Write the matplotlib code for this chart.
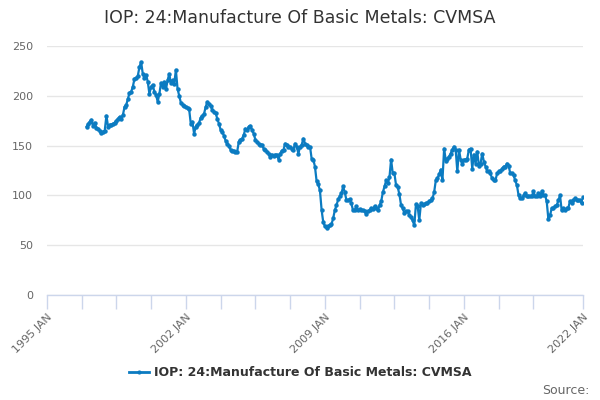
import matplotlib
matplotlib.use("Agg")
import matplotlib.pyplot as plt
import matplotlib.dates as mdates
import numpy as np
import datetime as dt

title = "IOP: 24:Manufacture Of Basic Metals: CVMSA"
series_name = "IOP: 24:Manufacture Of Basic Metals: CVMSA"
start_year = 1997
start_month = 1

v1997 = [169, 172, 174, 176, 170, 173, 168, 167, 165, 163, 164, 165]
v1998 = [180, 169, 171, 171, 172, 173, 175, 177, 179, 177, 181, 189]
v1999 = [191, 197, 203, 204, 209, 217, 218, 220, 229, 234, 222, 218]
v2000 = [221, 214, 202, 209, 211, 204, 201, 194, 202, 213, 209, 214]
v2001 = [207, 216, 222, 213, 216, 212, 226, 207, 200, 193, 191, 190]
v2002 = [189, 188, 187, 172, 174, 162, 169, 171, 173, 178, 180, 182]
v2003 = [189, 194, 192, 190, 186, 184, 183, 177, 172, 166, 164, 160]
v2004 = [155, 152, 150, 146, 145, 145, 144, 144, 154, 156, 157, 161]
v2005 = [167, 166, 169, 170, 166, 162, 156, 154, 152, 151, 151, 147]
v2006 = [146, 144, 142, 139, 141, 140, 141, 141, 136, 142, 145, 146]
v2007 = [152, 151, 149, 149, 147, 146, 152, 149, 142, 149, 151, 157]
v2008 = [152, 151, 149, 149, 137, 136, 129, 114, 111, 105, 85, 73]
v2009 = [69, 67, 69, 70, 71, 77, 85, 90, 96, 99, 102, 109]
v2010 = [103, 95, 95, 96, 92, 85, 85, 89, 85, 86, 85, 85]
v2011 = [84, 81, 84, 85, 87, 86, 89, 87, 85, 90, 94, 103]
v2012 = [109, 115, 112, 118, 136, 122, 122, 110, 108, 101, 90, 87]
v2013 = [82, 84, 84, 80, 78, 75, 70, 91, 89, 75, 92, 90]
v2014 = [91, 92, 92, 94, 95, 97, 103, 115, 117, 121, 126, 115]
v2015 = [147, 135, 137, 139, 142, 146, 149, 146, 124, 146, 136, 132]
v2016 = [136, 136, 137, 146, 147, 127, 141, 132, 144, 130, 132, 142]
v2017 = [134, 129, 125, 124, 122, 117, 115, 115, 122, 124, 124, 127]
v2018 = [129, 129, 132, 130, 122, 122, 120, 115, 110, 100, 97, 97]
v2019 = [100, 102, 99, 99, 99, 99, 104, 99, 99, 102, 99, 104]
v2020 = [100, 100, 94, 76, 80, 87, 87, 89, 90, 95, 100, 85]
v2021 = [87, 85, 87, 87, 94, 92, 95, 97, 95, 95, 95, 92]
v2022 = [98]

values = (v1997 + v1998 + v1999 + v2000 + v2001 + v2002 + v2003 + v2004 +
          v2005 + v2006 + v2007 + v2008 + v2009 + v2010 + v2011 + v2012 +
          v2013 + v2014 + v2015 + v2016 + v2017 + v2018 + v2019 + v2020 +
          v2021 + v2022)

dates = []
y, m = start_year, start_month
for _ in values:
    dates.append(dt.date(y, m, 1))
    m += 1
    if m > 12:
        m = 1
        y += 1

yticks = [0, 50, 100, 150, 200, 250]
label_years = [1995, 2002, 2009, 2016, 2022]

fig = plt.figure(figsize=(6, 4), dpi=100)
ax = fig.add_axes([0.078, 0.2625, 0.894, 0.6225])
color = "#0b7bc1"
ax.plot(dates, values, color=color, linewidth=1.6, marker="o", markersize=3.2,
        markeredgewidth=0, zorder=3)

ax.set_ylim(0, 250)
ax.set_yticks(yticks)
ax.set_xlim(dt.date(1995, 1, 1), dt.date(2022, 1, 1))

major = [dt.date(yy, 1, 1) for yy in label_years]
ax.set_xticks(major)
ax.set_xticklabels([f"{yy} JAN" for yy in label_years], rotation=45,
                   ha="right", rotation_mode="anchor", fontsize=8, color="#666666")
minor = []
for yy in [1995, 2002, 2009, 2016]:
    for k in (1, 2, 3):
        mm = 21 * k
        if yy == 2016 and k == 3:
            continue
        minor.append(dt.date(yy + mm // 12, mm % 12 + 1, 1))
ax.set_xticks(minor, minor=True)
ax.tick_params(axis="x", which="both", length=10, width=1, color="#ccd6eb", pad=2)
ax.tick_params(axis="y", length=0, labelsize=8, labelcolor="#666666", pad=10)

ax.grid(axis="y", color="#e6e6e6", linewidth=1)
ax.set_axisbelow(True)
for s in ["top", "right", "left"]:
    ax.spines[s].set_visible(False)
ax.spines["bottom"].set_color("#ccd6eb")
ax.spines["bottom"].set_linewidth(1)

fig.text(0.5, 0.955, title, ha="center", va="center", fontsize=12.5, color="#333333")

from matplotlib.lines import Line2D
handle = Line2D([0], [0], color=color, linewidth=2, marker="o", markersize=3,
                markeredgewidth=0)
fig.legend([handle], [series_name], loc="center", bbox_to_anchor=(0.5, 0.068),
           frameon=False, prop={"weight": "bold", "size": 9}, handlelength=1.6,
           handletextpad=0.4, labelcolor="#333333")
fig.text(0.982, 0.025, "Source:", ha="right", va="center", fontsize=9, color="#666666")

fig.savefig("out.png", dpi=100)
